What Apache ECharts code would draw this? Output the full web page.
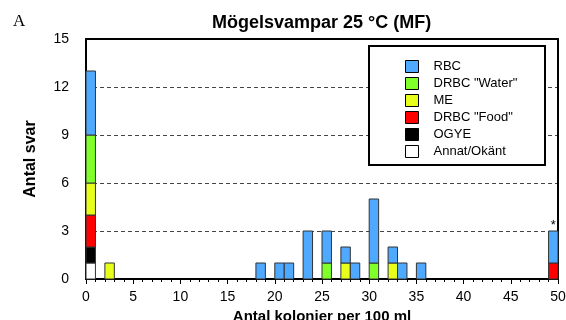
<!DOCTYPE html>
<html><head><meta charset="utf-8">
<script src="https://cdn.jsdelivr.net/npm/echarts@6/dist/echarts.min.js"></script>
<style>html,body{margin:0;padding:0;background:#fff}#c{width:566px;height:320px}</style>
</head><body><div id="c"></div>
<script>
// Bin left edges (colonies per 100 ml)
const bins      = [0, 2, 18, 20, 21, 23, 25, 27, 28, 30, 32, 33, 35, 49];
// Series values per bin (stack order bottom -> top)
const annat     = [1, 0, 0, 0, 0, 0, 0, 0, 0, 0, 0, 0, 0, 0];
const ogye      = [1, 0, 0, 0, 0, 0, 0, 0, 0, 0, 0, 0, 0, 0];
const drbcFood  = [2, 0, 0, 0, 0, 0, 0, 0, 0, 0, 0, 0, 0, 1];
const me        = [2, 1, 0, 0, 0, 0, 0, 1, 0, 0, 1, 0, 0, 0];
const drbcWater = [3, 0, 0, 0, 0, 0, 1, 0, 0, 1, 0, 0, 0, 0];
const rbc       = [4, 0, 1, 1, 1, 3, 2, 1, 1, 4, 1, 1, 1, 2];
const notes     = ['', '', '', '', '', '', '', '', '', '', '', '', '', '*'];
const seriesNames = ['Annat/Okänt', 'OGYE', 'DRBC "Food"', 'ME', 'DRBC "Water"', 'RBC'];
const seriesVals  = [annat, ogye, drbcFood, me, drbcWater, rbc];
const colors      = ['#ffffff', '#000000', '#ff0000', '#e8ff1c', '#80ff2a', '#4fa9ff'];
const legendOrder = ['RBC', 'DRBC "Water"', 'ME', 'DRBC "Food"', 'OGYE', 'Annat/Okänt'];
const xTicks = [0, 50, 5];
const yTicks = [0, 15, 3];

const chart = echarts.init(document.getElementById('c'), null, {renderer: 'canvas'});
const base = bins.map(() => 0);
const series = seriesVals.map((vals, si) => {
  const data = [];
  bins.forEach((b, i) => {
    const lo = base[i], hi = base[i] + vals[i];
    base[i] = hi;
    if (vals[i] > 0) data.push([b, lo, hi, si === seriesVals.length - 1 ? notes[i] : '']);
  });
  return {
    type: 'custom', name: seriesNames[si],
    itemStyle: {color: colors[si], borderColor: '#333', borderWidth: 1},
    encode: {x: [0], y: [2]},
    data: data,
    z: 3,
    renderItem: (params, api) => {
      const x0 = api.value(0), y0 = api.value(1), y1 = api.value(2);
      const p0 = api.coord([x0, y0]);
      const p1 = api.coord([x0 + 1, y1]);
      const children = [{
        type: 'rect',
        shape: {x: p0[0], y: p1[1], width: p1[0] - p0[0], height: p0[1] - p1[1]},
        style: {fill: colors[si], stroke: '#333', lineWidth: 1}
      }];
      const note = data[params.dataIndex][3];
      if (note) {
        children.push({type: 'text', x: (p0[0] + p1[0]) / 2, y: p1[1] + 1,
          style: {text: note, fill: '#000', font: '13px "Liberation Sans", Arial', align: 'center', verticalAlign: 'bottom'}});
      }
      return {type: 'group', children};
    }
  };
});

const font = '"Liberation Sans", Arial, sans-serif';
chart.setOption({
  animation: false,
  backgroundColor: '#fff',
  textStyle: {fontFamily: font},
  title: {text: 'Mögelsvampar 25 °C (MF)', left: 207, top: 9,
    textStyle: {fontSize: 18, fontWeight: 'bold', color: '#000', fontFamily: font}},
  graphic: [
    {type: 'text', left: 13, top: 13, style: {text: 'A', font: '17px "Liberation Serif", "Times New Roman", serif', fill: '#000'}},
    {type: 'rect', left: 368, top: 45, z: 10, shape: {width: 176, height: 119}, style: {fill: '#fff', stroke: '#000', lineWidth: 2}}
  ],
  legend: {
    data: legendOrder, orient: 'vertical', left: 400, top: 55, z: 11,
    itemWidth: 13, itemHeight: 12, itemGap: 4, icon: 'rect',
    itemStyle: {borderColor: '#000', borderWidth: 1},
    textStyle: {fontSize: 13, color: '#000', fontFamily: font, lineHeight: 12, padding: [0, 0, 0, 10]},
    selectedMode: false
  },
  grid: {left: 86, right: 8, top: 39, bottom: 41, containLabel: false, outerBoundsMode: 'none'},
  xAxis: [{
    type: 'value', min: xTicks[0], max: xTicks[1], interval: xTicks[2],
    name: 'Antal kolonier per 100 ml', nameLocation: 'middle', nameGap: 27,
    nameTextStyle: {fontSize: 15, fontWeight: 'bold', color: '#000', fontFamily: font},
    axisLine: {show: true, onZero: false, lineStyle: {color: '#000', width: 2}},
    axisTick: {show: true, length: 5, lineStyle: {color: '#000', width: 1}},
    minorTick: {show: true, splitNumber: 5, length: 3, lineStyle: {color: '#000', width: 1}},
    axisLabel: {fontSize: 14, color: '#000', margin: 11, fontFamily: font},
    splitLine: {show: false}
  }, {
    type: 'value', position: 'top', min: xTicks[0], max: xTicks[1],
    axisLine: {show: true, onZero: false, lineStyle: {color: '#000', width: 2}},
    axisTick: {show: false}, axisLabel: {show: false}, splitLine: {show: false}
  }],
  yAxis: [{
    type: 'value', min: yTicks[0], max: yTicks[1], interval: yTicks[2],
    name: 'Antal svar', nameLocation: 'middle', nameGap: 47,
    nameTextStyle: {fontSize: 16, fontWeight: 'bold', color: '#000', fontFamily: font},
    axisLine: {show: true, onZero: false, lineStyle: {color: '#000', width: 2}},
    axisTick: {show: false},
    axisLabel: {fontSize: 14, color: '#000', margin: 17, fontFamily: font},
    splitLine: {show: true, lineStyle: {color: '#444', type: [4, 3], width: 1}}
  }, {
    type: 'value', position: 'right', min: yTicks[0], max: yTicks[1],
    axisLine: {show: true, onZero: false, lineStyle: {color: '#000', width: 2}},
    axisTick: {show: false}, axisLabel: {show: false}, splitLine: {show: false}
  }],
  series: series
});
</script></body></html>
